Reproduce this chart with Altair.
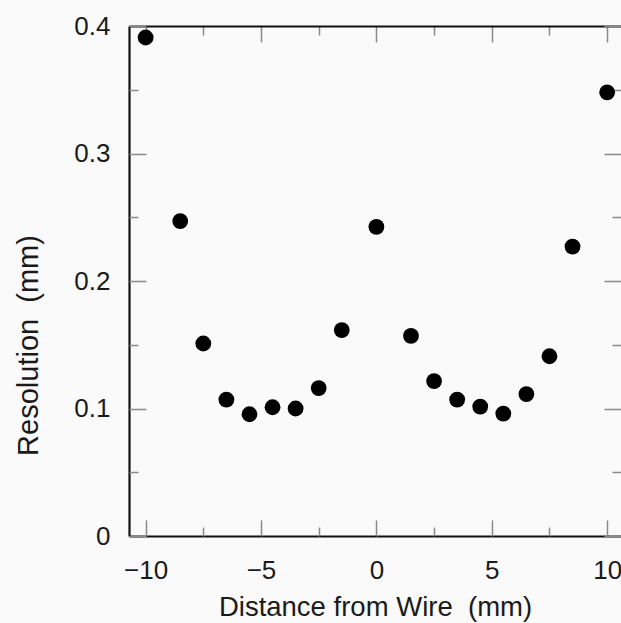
import altair as alt
import pandas as pd

# Data
distance = [-10, -8.5, -7.5, -6.5, -5.5, -4.5, -3.5, -2.5, -1.5, 0,
            1.5, 2.5, 3.5, 4.5, 5.5, 6.5, 7.5, 8.5, 10]
resolution = [0.391, 0.247, 0.151, 0.107, 0.0955, 0.101, 0.100, 0.116, 0.1615, 0.2425,
              0.157, 0.1215, 0.107, 0.1015, 0.096, 0.1113, 0.141, 0.227, 0.348]

x_label_values = [-10, -5, 0, 5, 10]
x_tick_values = [-10, -7.5, -5, -2.5, 0, 2.5, 5, 7.5, 10]
y_label_values = [0, 0.1, 0.2, 0.3, 0.4]
y_tick_values = [0, 0.05, 0.1, 0.15, 0.2, 0.25, 0.3, 0.35, 0.4]

df = pd.DataFrame({"d": distance, "r": resolution})

W, H = 492, 510
FONT = "Liberation Sans"
TXT = "#1a1a1a"
TICK = "#8a8a8a"
BORDER = "#111111"

xscale = alt.Scale(domain=[-10.72, 10.6], nice=False, zero=False)
yscale = alt.Scale(domain=[0, 0.4], nice=False, zero=False)

x_tick_size = {"condition": {"test": "datum.value % 5 === 0", "value": 16}, "value": 9}
y_tick_size = {"condition": {"test": "abs(round(datum.value * 20)) % 2 === 0", "value": 17}, "value": 9}

base = alt.Chart(df)

# main layer: labels, titles, left & bottom borders
points = base.mark_circle(size=250, color="black", opacity=1).encode(
    x=alt.X("d:Q", scale=xscale,
            axis=alt.Axis(orient="bottom", values=x_label_values, ticks=False,
                          domain=True, domainColor=BORDER, domainWidth=2.2,
                          labelFont=FONT, labelFontSize=26, labelColor=TXT,
                          labelPadding=21, grid=False,
                          title="Distance from Wire\u00a0 (mm)", titleFont=FONT,
                          titleFontSize=27.5, titleFontWeight="normal", titleColor=TXT,
                          titleBaseline="alphabetic", titleY=79)),
    y=alt.Y("r:Q", scale=yscale,
            axis=alt.Axis(orient="left", values=y_label_values, ticks=False,
                          format="~g",
                          domain=True, domainColor=BORDER, domainWidth=2.2,
                          labelFont=FONT, labelFontSize=26, labelColor=TXT,
                          labelPadding=19, grid=False,
                          title="Resolution\u00a0 (mm)", titleFont=FONT,
                          titleFontSize=29, titleFontWeight="normal", titleColor=TXT,
                          titleBaseline="middle", titleX=-101, titleY=319)),
)

# inward ticks along bottom and left edges
ticks_bl = base.mark_circle(opacity=0).encode(
    x=alt.X("d:Q", scale=xscale,
            axis=alt.Axis(orient="top", offset=-H, values=x_tick_values, labels=False,
                          domain=False, ticks=True, tickColor=TICK, tickWidth=1.5,
                          tickSize=x_tick_size, grid=False, title=None)),
    y=alt.Y("r:Q", scale=yscale,
            axis=alt.Axis(orient="right", offset=-W, values=y_tick_values, labels=False,
                          domain=False, ticks=True, tickColor=TICK, tickWidth=1.5,
                          tickSize=y_tick_size, grid=False, title=None)),
)

# top border with inward ticks, inward ticks along right edge
ticks_tr = base.mark_circle(opacity=0).encode(
    x=alt.X("d:Q", scale=xscale,
            axis=alt.Axis(orient="bottom", offset=-H, values=x_tick_values, labels=False,
                          domain=True, domainColor=BORDER, domainWidth=2.2,
                          ticks=True, tickColor=TICK, tickWidth=1.5,
                          tickSize=x_tick_size, grid=False, title=None)),
    y=alt.Y("r:Q", scale=yscale,
            axis=alt.Axis(orient="left", offset=-W, values=y_tick_values, labels=False,
                          domain=False, ticks=True, tickColor=TICK, tickWidth=1.5,
                          tickSize=y_tick_size, grid=False, title=None)),
)

chart = alt.layer(points, ticks_bl, ticks_tr).resolve_axis(
    x="independent", y="independent"
).properties(
    width=W, height=H,
    autosize=alt.AutoSizeParams(type="none"),
    padding={"left": 129, "top": 26, "right": 0, "bottom": 87},
    background="#fafafa",
).configure_view(stroke=None)

chart.save("out.html", embed_options={"renderer": "svg", "actions": False})
